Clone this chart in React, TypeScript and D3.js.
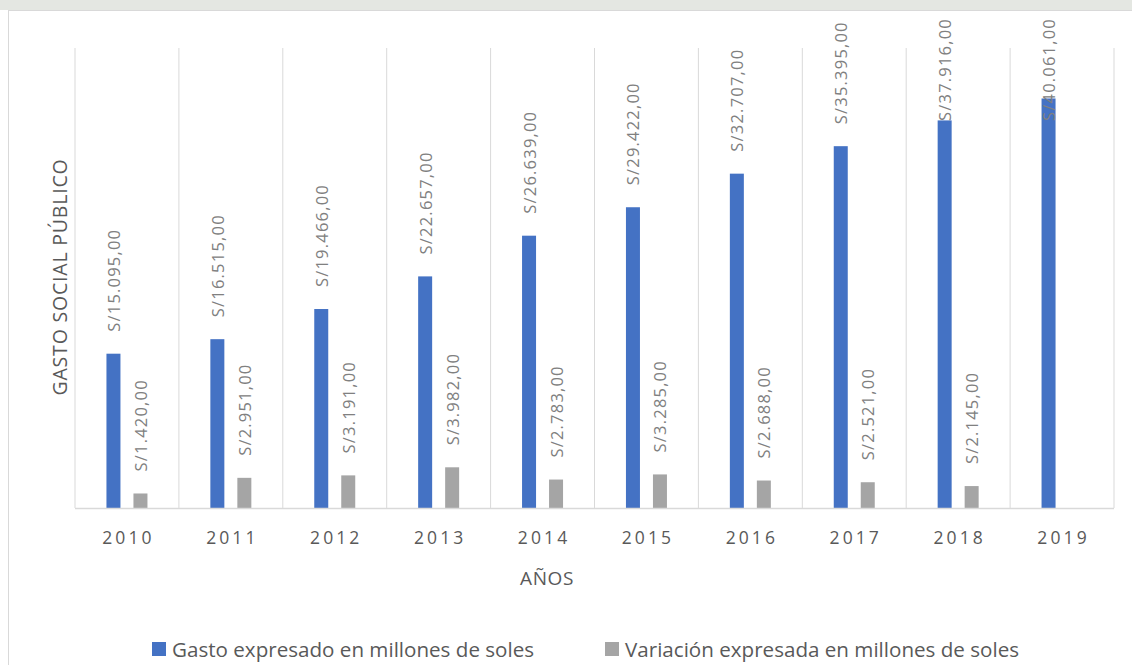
import React from "react";
import * as d3 from "d3";

const years = ["2010", "2011", "2012", "2013", "2014", "2015", "2016", "2017", "2018", "2019"];
const gasto = [15095, 16515, 19466, 22657, 26639, 29422, 32707, 35395, 37916, 40061];
const variacion = [1420, 2951, 3191, 3982, 2783, 3285, 2688, 2521, 2145, null];
const seriesNames = ["Gasto expresado en millones de soles", "Variación expresada en millones de soles"];
const seriesColors = ["#4472C4", "#A5A5A5"];

const W = 1132;
const H = 665;
const margin = { top: 48, right: 18, bottom: 157, left: 75 };
const FONT = "'Open Sans', sans-serif";

const fmt = (v: number) => {
  const s = v.toString().replace(/\B(?=(\d{3})+(?!\d))/g, ".");
  return `S/${s},00`;
};

const App = () => {
  const x = d3.scaleBand().domain(years).range([margin.left, W - margin.right]).padding(0);
  const xs = d3
    .scaleBand()
    .domain(["0", "1"])
    .range([0, x.bandwidth()])
    .paddingInner(0.4815)
    .paddingOuter(1.165);
  const y = d3.scaleLinear().domain([0, 45000]).range([H - margin.bottom, margin.top]);
  const baseY = y(0);

  const rows = [gasto, variacion];

  return (
    <div>
      <style>{"body{margin:0}"}</style>
      <svg width={W} height={H} style={{ display: "block", background: "#fff" }}>
        {/* faint watermark strip above the chart frame */}
        <rect x={0} y={0} width={W} height={10} fill="#e4e7e2" />
        <rect x={8.5} y={10.5} width={W} height={H} fill="#fff" stroke="#d9d9d9" />

        {/* vertical gridlines between categories */}
        {years.map((yr) => (
          <line
            key={"g" + yr}
            x1={x(yr)}
            x2={x(yr)}
            y1={margin.top}
            y2={baseY}
            stroke="#d9d9d9"
          />
        ))}
        <line
          x1={W - margin.right}
          x2={W - margin.right}
          y1={margin.top}
          y2={baseY}
          stroke="#d9d9d9"
        />

        {/* bars */}
        {rows.map((vals, si) =>
          vals.map((v, i) => {
            if (v == null) return null;
            const bx = (x(years[i]) as number) + (xs(String(si)) as number);
            return (
              <rect
                key={`b${si}-${i}`}
                x={bx}
                y={y(v)}
                width={xs.bandwidth()}
                height={baseY - y(v)}
                fill={seriesColors[si]}
              />
            );
          })
        )}

        {/* axis line */}
        <line x1={margin.left} x2={W - margin.right} y1={baseY + 0.5} y2={baseY + 0.5} stroke="#d9d9d9" strokeWidth={1.5} />

        {/* data labels */}
        {rows.map((vals, si) =>
          vals.map((v, i) => {
            if (v == null) return null;
            const label = fmt(v);
            const cx = (x(years[i]) as number) + (xs(String(si)) as number) + xs.bandwidth() / 2;
            const approxLen = label.length * 9.45;
            let start = y(v) - 22;
            let anchor = "start";
            if (start - approxLen < 18) {
              start = 18;
              anchor = "end";
            }
            return (
              <text
                key={`l${si}-${i}`}
                transform={`translate(${cx},${start}) rotate(-90)`}
                textAnchor={anchor}
                dominantBaseline="central"
                fontFamily={FONT}
                fontSize={16.5}
                letterSpacing={1.2}
                fill="#808080"
              >
                {label}
              </text>
            );
          })
        )}

        {/* category labels */}
        {years.map((yr) => (
          <text
            key={"t" + yr}
            x={(x(yr) as number) + x.bandwidth() / 2 + 1.5}
            y={537}
            textAnchor="middle"
            dominantBaseline="central"
            fontFamily={FONT}
            fontSize={17.5}
            letterSpacing={3.1}
            fill="#595959"
          >
            {yr}
          </text>
        ))}

        {/* axis titles */}
        <text
          x={547}
          y={578}
          textAnchor="middle"
          dominantBaseline="central"
          fontFamily={FONT}
          fontSize={19}
          letterSpacing={0.6}
          fill="#595959"
        >
          AÑOS
        </text>
        <text
          transform={`translate(59,277) rotate(-90)`}
          textAnchor="middle"
          dominantBaseline="central"
          fontFamily={FONT}
          fontSize={19.5}
          letterSpacing={0.8}
          fill="#595959"
        >
          GASTO SOCIAL PÚBLICO
        </text>

        {/* legend */}
        {[
          { sx: 152, tx: 172 },
          { sx: 605, tx: 625 },
        ].map((p, si) => (
          <g key={"lg" + si}>
            <rect x={p.sx} y={642} width={14} height={14} fill={seriesColors[si]} />
            <text
              x={p.tx}
              y={649}
              dominantBaseline="central"
              fontFamily={FONT}
              fontSize={20.6}
              fill="#595959"
            >
              {seriesNames[si]}
            </text>
          </g>
        ))}
      </svg>
    </div>
  );
};

export default App;
